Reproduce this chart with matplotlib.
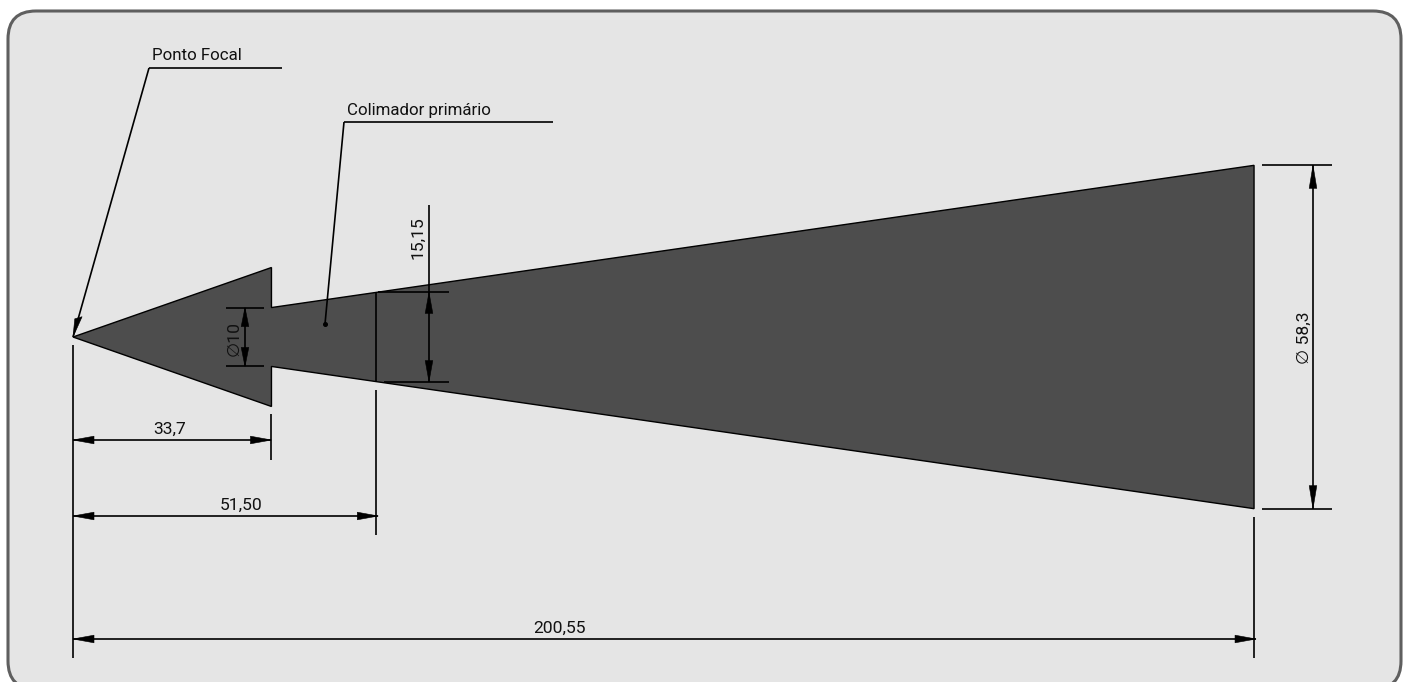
import matplotlib
matplotlib.use("Agg")
import matplotlib.pyplot as plt
from matplotlib.patches import FancyBboxPatch, Polygon

# cotas do desenho, em mm
focal_x = 0
head_x = 33.7
collimator_x = 51.50
total_x = 200.55
head_half = 11.8
exit_dia = 10
collimator_dia = 15.15
field_dia = 58.3

S = 5.889  # px por mm na figura
X0, Y0 = 73, 337

labels = ["33,7", "51,50", "200,55", "15,15", "58,3", "10"]


def px(x, y):
    return (x - X0) / S, (Y0 - y) / S


def line(ax, a, b, lw=1.2):
    p, q = px(*a), px(*b)
    ax.plot([p[0], q[0]], [p[1], q[1]], color="black", lw=lw, solid_capstyle="butt", zorder=4)


def head(ax, tip, direction, length=21, half=3.8):
    dx, dy = direction
    tx, ty = tip
    pts = [(tx, ty),
           (tx - dx * length - dy * half, ty - dy * length - dx * half),
           (tx - dx * length + dy * half, ty - dy * length + dx * half)]
    ax.add_patch(Polygon([px(*p) for p in pts], closed=True, fc="black", ec="black", lw=0.4, zorder=5))


def dim_h(ax, x1, x2, y):
    line(ax, (x1, y), (x2, y))
    head(ax, (x1, y), (-1, 0))
    head(ax, (x2, y), (1, 0))


def dim_v(ax, x, y1, y2, length=21):
    line(ax, (x, y1), (x, y2))
    head(ax, (x, y1), (0, -1), length)
    head(ax, (x, y2), (0, 1), length)


plt.rcParams["font.family"] = ["Roboto", "DejaVu Sans"]

fig = plt.figure(figsize=(14.08, 6.82), dpi=100)
ax = fig.add_axes([0, 0, 1, 1])
ax.set_xlim(-X0 / S, (1408 - X0) / S)
ax.set_ylim((Y0 - 682) / S, Y0 / S)
ax.axis("off")

# painel de fundo
x_a, y_a = px(8, 689)
x_b, y_b = px(1401, 11)
r = 28 / S
ax.add_patch(FancyBboxPatch((x_a + r, y_a + r), x_b - x_a - 2 * r, y_b - y_a - 2 * r,
                            boxstyle="round,pad=%f,rounding_size=%f" % (r, r),
                            fc="#e5e5e5", ec="#5f5f5f", lw=2.2, zorder=0))

# feixe
half_exit = exit_dia / 2
half_field = field_dia / 2
outline = [(focal_x, 0), (head_x, head_half), (head_x, half_exit), (total_x, half_field),
           (total_x, -half_field), (head_x, -half_exit), (head_x, -head_half)]
ax.add_patch(Polygon(outline, closed=True, fc="#4d4d4d", ec="black", lw=1.0, zorder=2))

# colimador
x_col = X0 + collimator_x * S
half_col = collimator_dia / 2 * S
line(ax, (x_col, Y0 - half_col), (x_col, Y0 + half_col))
line(ax, (378, Y0 - half_col), (449, Y0 - half_col))
line(ax, (384, Y0 + half_col), (449, Y0 + half_col))
line(ax, (429, 205), (429, Y0 - half_col))
dim_v(ax, 429, Y0 - half_col, Y0 + half_col)

# linhas de extensao
x_head = X0 + head_x * S
x_tot = X0 + total_x * S
line(ax, (X0, 345), (X0, 658))
line(ax, (x_head, 414), (x_head, 460))
line(ax, (x_col, 390), (x_col, 535))
line(ax, (x_tot, 517), (x_tot, 658))

dim_h(ax, X0, x_head, 440)
dim_h(ax, X0, x_col + 2, 516)
dim_h(ax, X0, x_tot + 2, 639)

# diametro de saida
half_e = exit_dia / 2 * S
line(ax, (226, Y0 - half_e), (264, Y0 - half_e))
line(ax, (226, Y0 + half_e), (264, Y0 + half_e))
dim_v(ax, 245, Y0 - half_e, Y0 + half_e, 19)

# diametro do campo
half_f = field_dia / 2 * S
line(ax, (1262, Y0 - half_f), (1332, Y0 - half_f))
line(ax, (1262, Y0 + half_f), (1332, Y0 + half_f))
dim_v(ax, 1313, Y0 - half_f, Y0 + half_f, 23)

# chamadas
line(ax, (73, 337), (149, 68))
line(ax, (149, 68), (282, 68))
head(ax, (73, 337), (-0.272, 0.962), 20, 3.8)
line(ax, (325, 324), (344, 122))
line(ax, (344, 122), (553, 122))
ax.plot(*px(325, 324), "o", color="black", ms=2.6, zorder=5)


def label(x, y, s, rot=0, ha="center", size=12.6):
    p = px(x, y)
    ax.text(p[0], p[1], s, rotation=rot, ha=ha, va="center", fontsize=size, color="#111111", zorder=6)


label(152, 56, "Ponto Focal", ha="left", size=12.2)
label(347, 111, "Colimador primário", ha="left", size=12.2)
label(170, 429, labels[0])
label(241, 505, labels[1])
label(560, 628, labels[2])
label(418, 238, labels[3], rot=90)
label(1304, 338, "\u2205 " + labels[4], rot=90)
label(234, 338, "\u2205" + labels[5], rot=90)

fig.savefig("out.png", dpi=100)
